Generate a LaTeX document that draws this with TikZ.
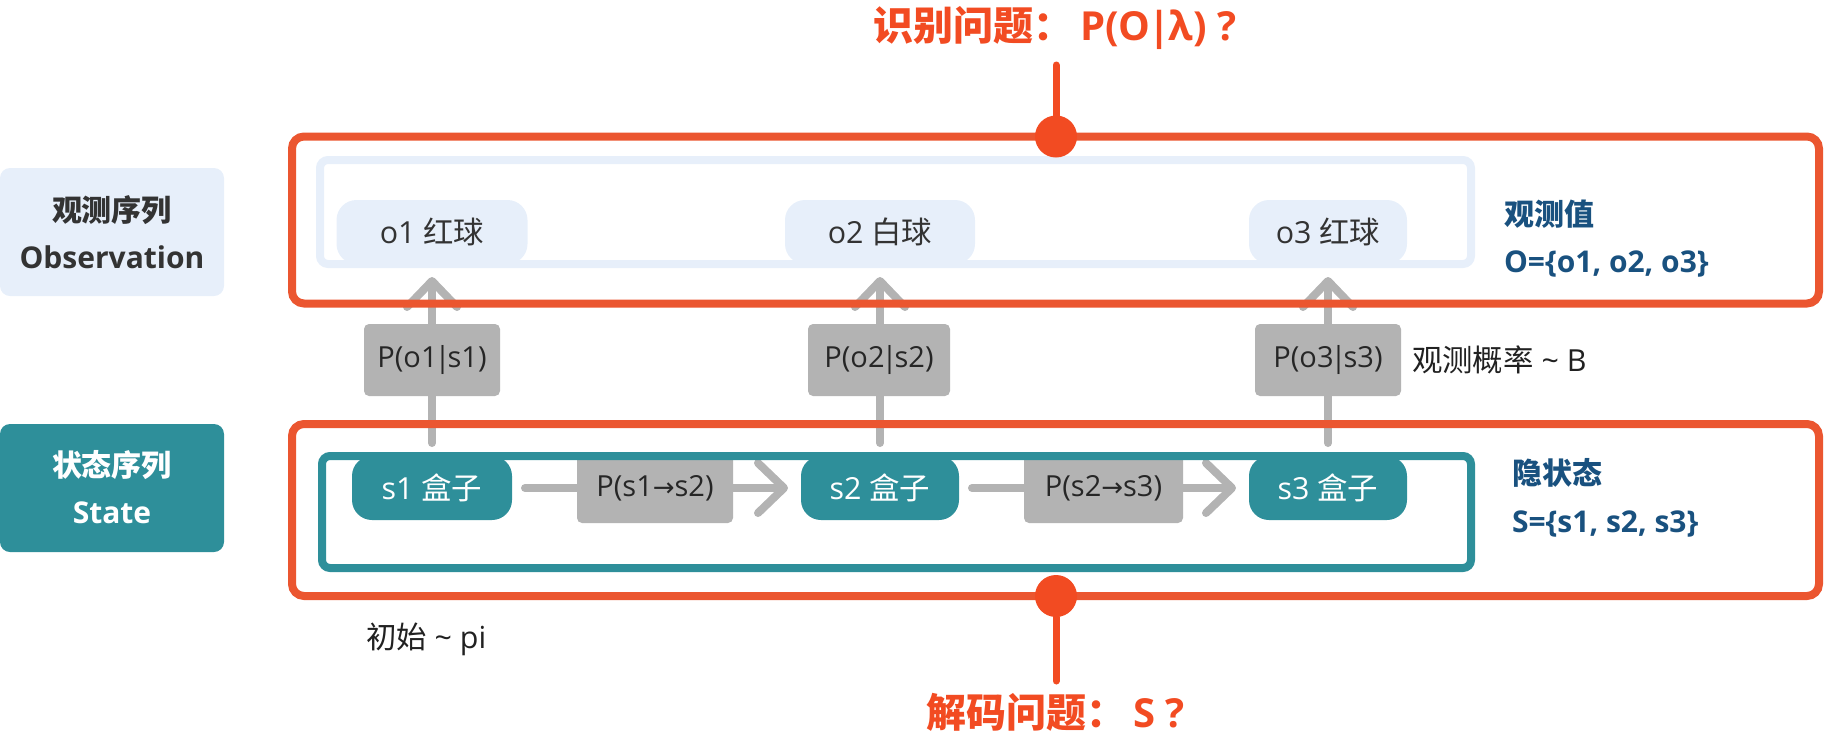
\documentclass[tikz,border=0pt]{standalone}
\usepackage{fontspec}
\setmainfont{Open Sans}
\newfontfamily\cjk{Noto Sans CJK SC}
\newfontfamily\djv{DejaVu Sans}
\usetikzlibrary{arrows.meta}
\definecolor{frameor}{HTML}{EB5630}
\definecolor{dotor}{HTML}{F24B22}
\definecolor{lightbl}{HTML}{E7EFFA}
\definecolor{tealc}{HTML}{2E8F9A}
\definecolor{grayc}{HTML}{B3B3B3}
\definecolor{txtc}{HTML}{333333}
\definecolor{darkbl}{HTML}{19517F}
\newcommand\condbar{\kern-1.5pt|\kern-1.5pt}
\newcommand\tarrow{{\djv\fontsize{13}{15}\selectfont →}}
\pgfdeclarelayer{bg}
\pgfdeclarelayer{front}
\pgfsetlayers{bg,main,front}
\begin{document}
\begin{tikzpicture}[x=0.5pt,y=-0.5pt,
  every node/.style={inner sep=0pt, outer sep=0pt},
  basefont/.style={font=\fontsize{14.5}{17}\selectfont},
  nodefont/.style={font=\fontsize{15.2}{18}\selectfont},
  obsnode/.style={nodefont, fill=lightbl, text=txtc, rounded corners=10pt, minimum height=32pt},
  stnode/.style={nodefont, fill=tealc, text=white, rounded corners=10pt, minimum height=32pt},
  probbox/.style={basefont, fill=grayc, text=black!85, rounded corners=2.5pt},
  lblbox/.style={rounded corners=5pt, minimum width=112pt, minimum height=64pt},
  lbltext/.style={anchor=base, font=\fontsize{15}{18}\selectfont\bfseries},
  sidetext/.style={anchor=base west, font=\fontsize{15}{18}\selectfont\bfseries, text=darkbl},
  plaintext/.style={anchor=base west, nodefont, text=black!87},
  oframe/.style={draw=frameor, line width=4pt, rounded corners=6pt},
  iframe/.style={line width=4pt, rounded corners=4pt},
  flow/.style={draw=grayc, line width=4pt, line cap=round, -{Straight Barb[length=13pt, width=25pt, round]}, shorten <=6.5pt, shorten >=6.5pt},
  qline/.style={draw=dotor, line width=3.5pt, line cap=round},
  qdot/.style={circle, fill=dotor, minimum size=21pt},
  qtitle/.style={anchor=base, font=\fontsize{20}{24}\selectfont\bfseries, text=dotor}
]
\useasboundingbox (0,0) rectangle (1828,735);

% side labels
\node[lblbox, fill=lightbl] (obslbl) at (112,232) {};
\node[lbltext, text=txtc] (obst1) at (112,221) {\cjk 观测序列};
\node[lbltext, text=txtc] (obst2) at (112,268) {Observation};
\node[lblbox, fill=tealc] (stlbl) at (112,488) {};
\node[lbltext, text=white] (stt1) at (112,476) {\cjk 状态序列};
\node[lbltext, text=white] (stt2) at (112,523) {State};

% observation nodes
\node[obsnode, minimum width=95.5pt] (o1) at (432,232) {o1 {\cjk 红球}};
\node[obsnode, minimum width=95pt] (o2) at (880,232) {o2 {\cjk 白球}};
\node[obsnode, minimum width=79pt] (o3) at (1328,232) {o3 {\cjk 红球}};

% state nodes
\node[stnode, minimum width=80pt] (s1) at (432,488) {s1 {\cjk 盒子}};
\node[stnode, minimum width=79pt] (s2) at (880,488) {s2 {\cjk 盒子}};
\node[stnode, minimum width=79pt] (s3) at (1328,488) {s3 {\cjk 盒子}};

% emission probability boxes
\node[probbox, minimum width=68pt, minimum height=36pt] (b1) at (432,360) {P(o1\condbar s1)};
\node[probbox, minimum width=71pt, minimum height=36pt] (b2) at (879,360) {P(o2\condbar s2)};
\node[probbox, minimum width=73pt, minimum height=36pt] (b3) at (1328,360) {P(o3\condbar s3)};

% transition probability boxes
\node[probbox, minimum width=78pt, minimum height=35pt] (a12) at (655,488) {P(s1\tarrow s2)};
\node[probbox, minimum width=79.5pt, minimum height=35pt] (a23) at (1103.5,488) {P(s2\tarrow s3)};

% texts at the right and below
\node[sidetext] (obsv1) at (1504,225) {\cjk 观测值};
\node[sidetext] (obsv2) at (1504,272) {O=\{o1, o2, o3\}};
\node[sidetext] (hid1) at (1512,484) {\cjk 隐状态};
\node[sidetext] (hid2) at (1512,532) {S=\{s1, s2, s3\}};
\node[plaintext] (obsprob) at (1412,371) {{\cjk 观测概率} \textasciitilde{} B};
\node[plaintext] (init) at (366,648) {{\cjk 初始} \textasciitilde{} pi};

% connectors behind the boxes
\begin{pgfonlayer}{bg}
\draw[flow] (s1) -- (o1);
\draw[flow] (s2) -- (o2);
\draw[flow] (s3) -- (o3);
\draw[flow] (s1) -- (s2);
\draw[flow] (s2) -- (s3);
\end{pgfonlayer}

% frames and questions on top
\begin{pgfonlayer}{front}
\node[iframe, draw=lightbl, minimum width=575.5pt, minimum height=52pt] (obsframe) at (895.5,212) {};
\node[iframe, draw=tealc, minimum width=574.5pt, minimum height=56pt] (stframe) at (896.5,512) {};
\node[oframe, minimum width=763.5pt, minimum height=83.5pt] (oframe) at (1055.5,220) {};
\node[oframe, minimum width=763.5pt, minimum height=86pt] (sframe) at (1055.5,510) {};
\node[qtitle] (q1) at (1055,40) {{\cjk 识别问题：}\,P(O\kern-1pt|\kern-1ptλ) ?};
\node[qtitle] (q2) at (1056,727) {{\cjk 解码问题：}\,S ?};
\coordinate (q1end) at (1056,65);
\coordinate (q2end) at (1056,681);
\node[qdot] (d1) at (1056,136.5) {};
\node[qdot] (d2) at (1056,596) {};
\draw[qline] (d1) -- (q1end);
\draw[qline] (d2) -- (q2end);
\end{pgfonlayer}
\end{tikzpicture}
\end{document}
